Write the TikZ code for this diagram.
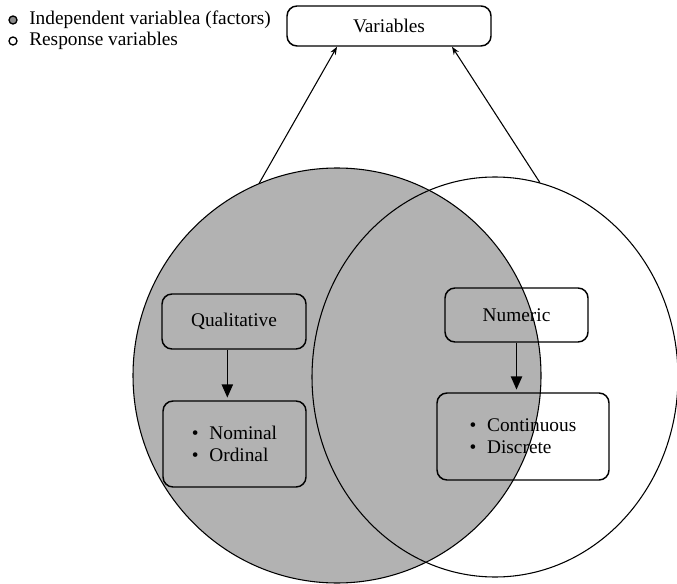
\documentclass[tikz,border=0pt]{standalone}
\usepackage{fontspec}
\setmainfont{Liberation Serif}
\usetikzlibrary{shapes.geometric,arrows.meta,calc}
\begin{document}
\begin{tikzpicture}[x=0.75pt,y=-0.75pt,
  lbl/.style={font=\fontsize{14.5}{16.5}\selectfont},
  rbox/.style={draw,line width=1.1pt,rounded corners=7.5pt,inner sep=0pt,lbl,align=left},
  ell/.style={ellipse,draw,line width=0.8pt,inner sep=0pt},
  flow/.style={line width=1.1pt,-{Triangle[length=10pt,width=8.5pt]}},
  upar/.style={line width=0.8pt,-{Stealth[length=6pt,width=4.5pt]}},
  legdot/.style={circle,draw,line width=1pt,minimum size=6pt,inner sep=0pt}]
\useasboundingbox (0,0) rectangle (677,584);
% circles
\node[ell,fill=black!30,minimum width=306pt,minimum height=311.25pt] (qset) at (337,375.5) {};
\node[ell,minimum width=274.5pt,minimum height=300pt] (nset) at (495,377) {};
% top box
\node[rbox,fill=white,minimum width=153pt,minimum height=30pt] (var) at (389,26) {Variables};
% legend
\node[legdot,fill=black!45] (l1) at (13,20) {};
\node[legdot,fill=white] (l2) at (13,41) {};
\node[lbl,anchor=west,inner sep=0pt] (t1) at (29,20) {Independent variablea (factors)};
\node[lbl,anchor=west,inner sep=0pt] (t2) at (29,41) {Response variables};
% boxes
\node[rbox,minimum width=108pt,minimum height=41.25pt] (qual) at (234,321.5) {Qualitative};
\node[rbox,minimum width=107.25pt,minimum height=64.5pt] (qlist) at (234.5,444) {\textbullet\hspace{8pt}Nominal\\\textbullet\hspace{8pt}Ordinal};
\node[rbox,minimum width=107.25pt,minimum height=40.5pt] (num) at (516.5,315) {Numeric};
\node[rbox,minimum width=129pt,minimum height=65.25pt] (nlist) at (523,436.5) {\textbullet\hspace{8pt}Continuous\\\textbullet\hspace{8pt}Discrete};
% arrows
\coordinate (qa) at ([xshift=-5pt]qual.south);
\coordinate (na) at (num.south);
\draw[flow] (qa) -- ([yshift=2pt]qa |- qlist.north);
\draw[flow] (na) -- ([yshift=2pt]na |- nlist.north);
\draw[upar] (qset.112) -- ([xshift=-39pt]var.south);
\draw[upar] (nset.77.5) -- ([xshift=47.25pt]var.south);
\end{tikzpicture}
\end{document}
